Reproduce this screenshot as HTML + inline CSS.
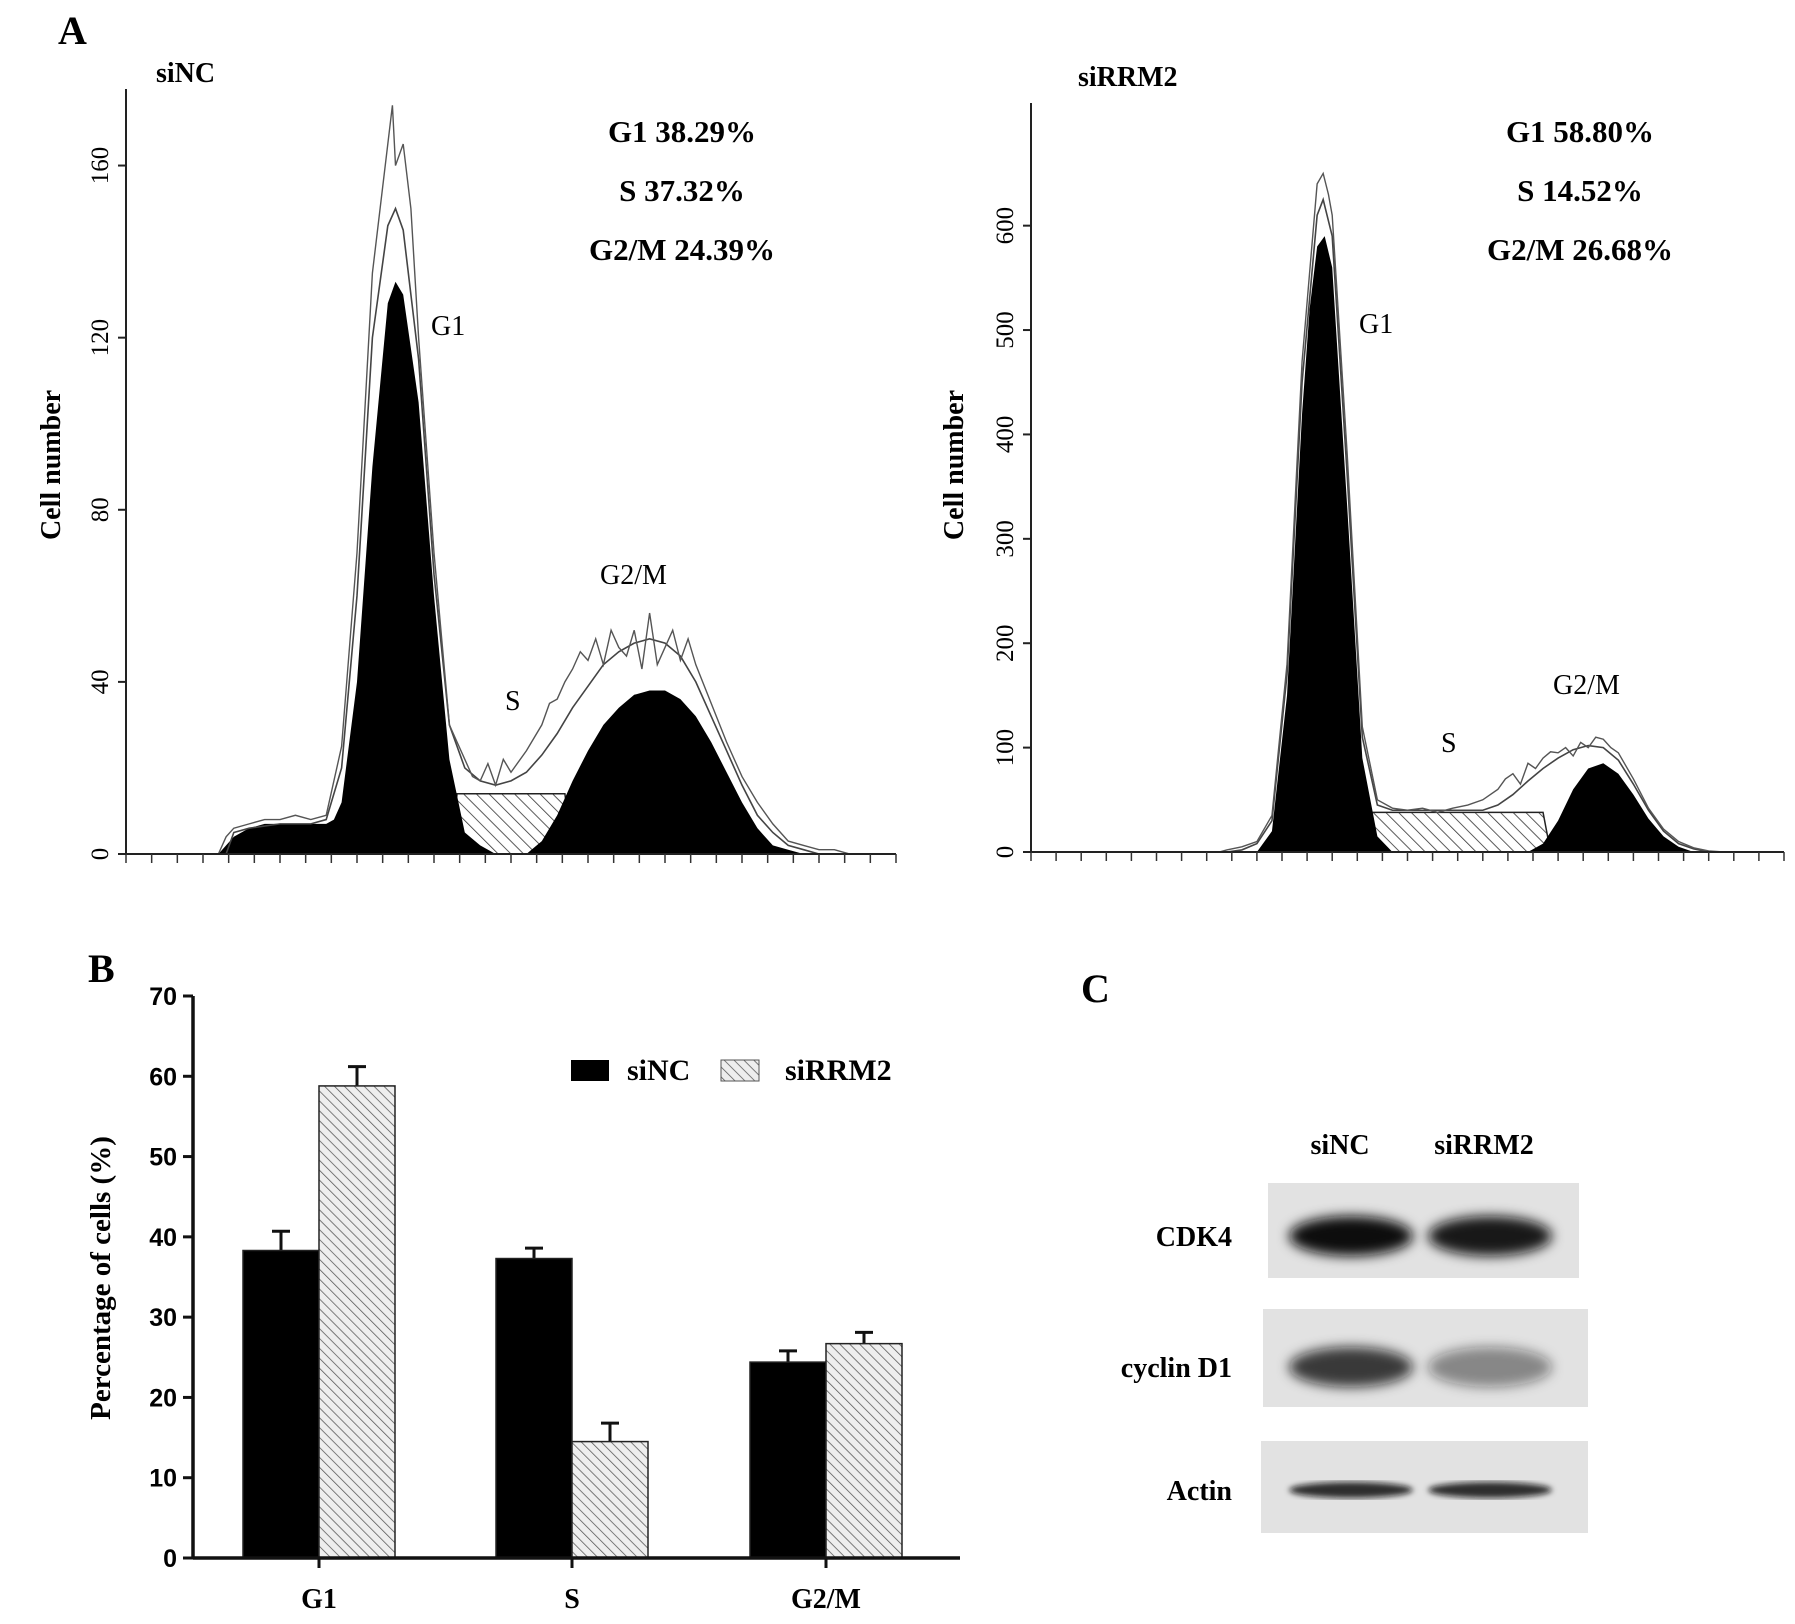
<!DOCTYPE html>
<html><head><meta charset="utf-8"><style>
body{margin:0;background:#fff}
svg text{font-family:"Liberation Serif",serif}
.b{font-weight:bold}
</style></head><body>
<svg id="s" xmlns="http://www.w3.org/2000/svg" width="1795" height="1619" viewBox="0 0 1795 1619">
<defs>
<pattern id="hatch" patternUnits="userSpaceOnUse" width="9" height="9" patternTransform="rotate(-45)">
<rect width="9" height="9" fill="#fff"/><line x1="0" y1="0" x2="0" y2="9" stroke="#333" stroke-width="1.6"/></pattern>
<pattern id="hatch2" patternUnits="userSpaceOnUse" width="7" height="7" patternTransform="rotate(-45)">
<rect width="7" height="7" fill="#eee"/><line x1="0" y1="0" x2="0" y2="7" stroke="#555" stroke-width="1.5"/></pattern>
<filter id="blur" x="-20%" y="-50%" width="140%" height="200%"><feGaussianBlur stdDeviation="6"/></filter>
<filter id="blur2"><feGaussianBlur stdDeviation="3"/></filter>
</defs>
<text x="58" y="44" font-size="40" class="b">A</text>
<text x="88" y="982" font-size="40" class="b">B</text>
<text x="1081" y="1002" font-size="40" class="b">C</text>
<g id="gL"></g>
<g id="gR"></g>
<g id="gB"></g>
<g id="gC"></g>
</svg>
<script>
// ---------- Histogram data (x: channel 0-100, y: cell count) ----------
const L_blackX=[12,13,14,16,18,20,22,24,26,27,28,30,32,34,35,36,38,40,42,44,46,48];
const L_blackY=[0,2,4,6,7,7,7,7,7,8,12,40,90,128,133,130,105,60,22,5,2,0];
const L_g2X=[52,54,56,58,60,62,64,66,68,70,72,74,76,78,80,82,84,86,88];
const L_g2Y=[0,3,9,17,24,30,34,37,38,38,36,32,26,19,12,6,2,1,0];
const L_sX=[42,43,57,58];
const L_sY=[0,14,14,0];
const L_fitX=[13,14,16,20,24,26,28,30,32,34,35,36,38,40,42,44,46,48,50,52,54,56,58,60,62,64,66,68,70,72,74,76,78,80,82,84,86,88,90];
const L_fitY=[0,5,6,7,7,8,20,60,120,146,150,145,115,65,30,20,17,16,17,19,23,28,34,39,44,47,49,50,49,46,40,32,24,16,9,5,2,1,0];
const L_rawX=[12,13,14,16,18,20,22,24,26,28,30,32,33,34,34.6,35,36,37,38,40,42,43,44,45,46,47,48,49,50,52,54,55,56,57,58,59,60,61,62,63,64,65,66,67,68,69,70,71,72,73,74,76,78,80,82,84,86,88,90,92,94,96];
const L_rawY=[0,4,6,7,8,8,9,8,9,25,70,135,150,165,174,160,165,150,120,70,30,26,22,18,17,21,16,22,19,24,30,35,36,40,43,47,45,50,44,52,48,46,52,43,56,44,48,52,45,50,44,35,26,18,12,7,3,2,1,1,0,0];
const R_blackX=[30,32,34,36,37,38,39,40,42,44,46,48];
const R_blackY=[0,20,150,420,520,580,590,560,330,90,15,0];
const R_g2X=[66,68,70,72,74,76,78,80,82,84,86,88];
const R_g2Y=[0,8,30,60,80,85,75,55,32,15,5,0];
const R_sX=[43,44,68,69];
const R_sY=[0,38,38,0];
const R_fitX=[26,28,30,32,34,36,38,38.8,40,42,44,46,48,52,56,60,62,64,66,68,70,72,74,76,78,80,82,84,86,88,90];
const R_fitY=[0,2,8,30,170,450,610,625,590,360,110,45,40,40,40,40,45,55,68,80,90,98,102,100,88,65,40,20,8,3,0];
const R_rawX=[25,26,28,30,32,34,36,38,38.8,39.5,40,42,44,46,48,50,52,54,56,58,60,62,63,64,65,66,67,68,69,70,71,72,73,74,75,76,77,78,80,82,84,86,88,90,92,94];
const R_rawY=[0,2,5,10,35,180,470,640,650,630,610,380,120,50,42,40,42,38,42,45,50,60,70,75,65,85,80,90,96,95,100,92,105,100,110,108,100,95,70,42,22,10,4,1,0,0];
const L_ticks=[0,40,80,120,160];
const R_ticks=[0,100,200,300,400,500,600];
const L_stats=["G1 38.29%","S 37.32%","G2/M 24.39%"];
const R_stats=["G1 58.80%","S 14.52%","G2/M 26.68%"];

const NS="http://www.w3.org/2000/svg";
function mk(tag,attrs,parent,txt){const e=document.createElementNS(NS,tag);for(const k in attrs)e.setAttribute(k,attrs[k]);if(txt!==undefined)e.textContent=txt;parent.appendChild(e);return e;}

function histogram(g,o){
  const sx=v=>o.x0+(o.x1-o.x0)*v/100;
  const sy=v=>o.y0-(o.y0-o.yTop)*v/o.ymax;
  const poly=(xs,ys)=>{let d="M"+sx(xs[0])+","+o.y0;xs.forEach((x,i)=>d+=" L"+sx(x)+","+sy(ys[i]));d+=" L"+sx(xs[xs.length-1])+","+o.y0+" Z";return d;};
  const line=(xs,ys)=>{let d="";xs.forEach((x,i)=>d+=(i?" L":"M")+sx(x)+","+sy(ys[i]));return d;};
  let e;
  e=mk("path",{d:poly(o.sX,o.sY),fill:"url(#hatch)",stroke:"#222","stroke-width":1.5},g);
  
  
  e=mk("path",{d:poly(o.bX,o.bY),fill:"#000"},g);
  
  
  e=mk("path",{d:poly(o.gX,o.gY),fill:"#000"},g);
  
  
  e=mk("path",{d:line(o.fX,o.fY),fill:"none",stroke:"#444","stroke-width":1.6},g);
  
  
  e=mk("path",{d:line(o.rX,o.rY),fill:"none",stroke:"#555","stroke-width":1.4},g);
  
  
  e=mk("line",{x1:o.x0,y1:o.yTop-12,x2:o.x0,y2:o.y0,stroke:"#222","stroke-width":2},g);
  
  
  e=mk("line",{x1:o.x0,y1:o.y0,x2:o.x1,y2:o.y0,stroke:"#222","stroke-width":2},g);
  
  
  for(let i=0;i<=30;i++){const x=o.x0+i*(o.x1-o.x0)/30;
    e=mk("line",{x1:x,y1:o.y0,x2:x,y2:o.y0+9,stroke:"#333","stroke-width":1.5},g);
    
    }
  o.ticks.forEach(t=>{const y=sy(t);
    e=mk("line",{x1:o.x0-8,y1:y,x2:o.x0,y2:y,stroke:"#222","stroke-width":2},g);
    
    
    e=mk("text",{x:o.x0-18,y:y,"font-size":25,"text-anchor":"middle",transform:`rotate(-90 ${o.x0-18} ${y})`},g,String(t));
    
    });
  e=mk("text",{x:o.ylx,y:465,"font-size":28,"font-weight":"bold","text-anchor":"middle",transform:`rotate(-90 ${o.ylx} 465)`},g,"Cell number");
  
  
  e=mk("text",{x:o.tx,y:o.ty,"font-size":28,"font-weight":"bold"},g,o.title);
  
  
  o.stats.forEach((s,i)=>{e=mk("text",{x:o.statX,y:142+i*59,"font-size":31,"font-weight":"bold","text-anchor":"middle"},g,s);
    
    });
  o.labels.forEach(l=>{e=mk("text",{x:l[1],y:l[2],"font-size":28},g,l[0]);
    
    });
}
histogram(document.getElementById('gL'),{x0:126,x1:896,y0:854,yTop:101,ymax:175,ticks:L_ticks,
 bX:L_blackX,bY:L_blackY,gX:L_g2X,gY:L_g2Y,sX:L_sX,sY:L_sY,fX:L_fitX,fY:L_fitY,rX:L_rawX,rY:L_rawY,
 ylx:60,tx:156,ty:82,title:"siNC",stats:L_stats,statX:682,labels:[["G1",431,335],["S",505,710],["G2/M",600,584]]});
histogram(document.getElementById('gR'),{x0:1031,x1:1784,y0:852,yTop:115,ymax:706,ticks:R_ticks,
 bX:R_blackX,bY:R_blackY,gX:R_g2X,gY:R_g2Y,sX:R_sX,sY:R_sY,fX:R_fitX,fY:R_fitY,rX:R_rawX,rY:R_rawY,
 ylx:963,tx:1078,ty:86,title:"siRRM2",stats:R_stats,statX:1580,labels:[["G1",1359,333],["S",1441,752],["G2/M",1553,694]]});

// ---------- Bar chart ----------
const categories=["G1","S","G2/M"];
const siNC=[38.3,37.3,24.4];
const siNCerr=[2.4,1.3,1.4];
const siRRM2=[58.8,14.5,26.7];
const siRRM2err=[2.4,2.3,1.4];
const barTicks=[0,10,20,30,40,50,60,70];
(function(){
  const g=document.getElementById('gB');
  const X0=193,X1=960,Y0=1558,YT=996,YMAX=70;
  const sy=v=>Y0-(Y0-YT)*v/YMAX;
  const centers=[319,572,826],bw=76;
  let e;
  categories.forEach((c,i)=>{
    [[siNC,siNCerr,-1,"#000"],[siRRM2,siRRM2err,0,"url(#hatch2)"]].forEach(s=>{
      const v=s[0][i],er=s[1][i];const x=centers[i]+s[2]*bw;
      const cx=x+bw/2;
      e=mk("line",{x1:cx,y1:sy(v),x2:cx,y2:sy(v+er),stroke:"#111","stroke-width":3},g);
      
      
      e=mk("line",{x1:cx-9,y1:sy(v+er),x2:cx+9,y2:sy(v+er),stroke:"#111","stroke-width":3},g);
      
      
      e=mk("rect",{x:x,y:sy(v),width:bw,height:Y0-sy(v),fill:s[3],stroke:"#222","stroke-width":1.5},g);
      
      
    });
    e=mk("line",{x1:centers[i],y1:Y0,x2:centers[i],y2:Y0+10,stroke:"#111","stroke-width":3},g);
    
    
    e=mk("text",{x:centers[i],y:1608,"font-size":28,"font-weight":"bold","text-anchor":"middle"},g,c);
    
    
  });
  e=mk("line",{x1:X0,y1:YT,x2:X0,y2:Y0+1.5,stroke:"#111","stroke-width":3.5},g);
  
  
  e=mk("line",{x1:X0,y1:Y0,x2:X1,y2:Y0,stroke:"#111","stroke-width":3.5},g);
  
  
  barTicks.forEach(t=>{
    e=mk("line",{x1:X0-10,y1:sy(t),x2:X0,y2:sy(t),stroke:"#111","stroke-width":3},g);
    
    
    e=mk("text",{x:X0-16,y:sy(t)+9,"font-size":25,"font-weight":"bold","text-anchor":"end",style:"font-family:'Liberation Sans Narrow','Liberation Sans',sans-serif"},g,String(t));
    
    
  });
  e=mk("text",{x:110,y:1278,"font-size":29,"font-weight":"bold","text-anchor":"middle",transform:"rotate(-90 110 1278)"},g,"Percentage of cells (%)");
  
  
  e=mk("rect",{x:571,y:1060,width:38,height:21,fill:"#000"},g);
  
  
  e=mk("text",{x:627,y:1080,"font-size":30,"font-weight":"bold"},g,"siNC");
  
  
  e=mk("rect",{x:721,y:1060,width:38,height:21,fill:"url(#hatch2)",stroke:"#555","stroke-width":1},g);
  
  
  e=mk("text",{x:785,y:1080,"font-size":30,"font-weight":"bold"},g,"siRRM2");
  
  
})();

// ---------- Western blot ----------
const blotRows=["CDK4","cyclin D1","Actin"];
const blotIntensity=[[1,0.95],[0.8,0.45],[0.85,0.85]];
(function(){
  const g=document.getElementById('gC');
  const boxes=[[1268,1183,311,95,1236,20],[1263,1309,325,98,1367,20],[1261,1441,327,92,1490,8]];
  let e;
  e=mk("text",{x:1340,y:1154,"font-size":28,"font-weight":"bold","text-anchor":"middle"},g,"siNC");
  
  
  e=mk("text",{x:1484,y:1154,"font-size":28,"font-weight":"bold","text-anchor":"middle"},g,"siRRM2");
  
  
  blotRows.forEach((r,i)=>{const b=boxes[i];
    e=mk("rect",{x:b[0],y:b[1],width:b[2],height:b[3],fill:"#e2e2e2"},g);
    
    
    [1351,1490].forEach((cx,j)=>{
      e=mk("ellipse",{cx:cx,cy:b[4],rx:62,ry:b[5],fill:"#111","fill-opacity":blotIntensity[i][j],filter:i==2?"url(#blur2)":"url(#blur)"},g);
      
      
    });
    e=mk("text",{x:1232,y:b[4]+10,"font-size":28,"font-weight":"bold","text-anchor":"end"},g,r);
    
    
  });
})();
</script>
</body></html>
